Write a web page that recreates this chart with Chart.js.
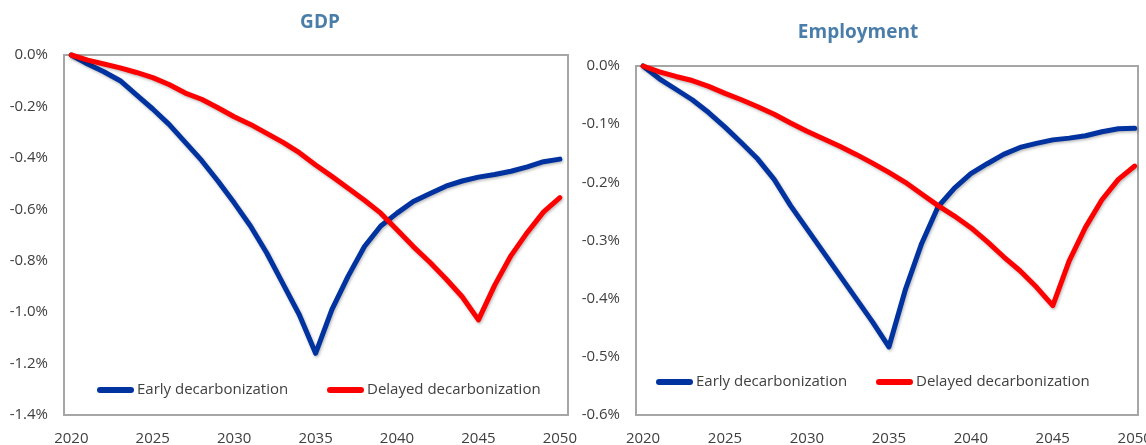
<!DOCTYPE html>
<html>
<head>
<meta charset="utf-8">
<title>GDP and employment impact of decarbonization timing</title>
<script src="https://cdn.jsdelivr.net/npm/chart.js@4.4.1/dist/chart.umd.min.js"></script>
<style>
  html, body { margin: 0; padding: 0; width: 1146px; height: 445px; overflow: hidden; background: #ffffff; }
  .panel { position: absolute; top: 0; }
  canvas { display: block; }
</style>
</head>
<body>
<div class="panel" style="left:0px"><canvas id="gdpChart" width="600" height="445"></canvas></div>
<div class="panel" style="left:573px"><canvas id="empChart" width="600" height="445"></canvas></div>

<script>
// ---- data -------------------------------------------------------------
const years = [2020, 2021, 2022, 2023, 2024, 2025, 2026, 2027, 2028, 2029,
               2030, 2031, 2032, 2033, 2034, 2035, 2036, 2037, 2038, 2039,
               2040, 2041, 2042, 2043, 2044, 2045, 2046, 2047, 2048, 2049, 2050];

const seriesNames = ['Early decarbonization', 'Delayed decarbonization'];

// GDP deviation from baseline, %
const gdpEarly = [0.000, -0.035, -0.065, -0.100, -0.155, -0.210, -0.270, -0.340, -0.410, -0.490,
                  -0.575, -0.665, -0.770, -0.890, -1.010, -1.160, -0.990, -0.860, -0.745, -0.665,
                  -0.615, -0.570, -0.540, -0.510, -0.490, -0.475, -0.465, -0.452, -0.435, -0.415, -0.405];
const gdpDelayed = [0.000, -0.020, -0.035, -0.050, -0.068, -0.088, -0.115, -0.148, -0.172, -0.205,
                    -0.240, -0.270, -0.305, -0.340, -0.380, -0.428, -0.472, -0.518, -0.565, -0.615,
                    -0.680, -0.745, -0.805, -0.870, -0.940, -1.030, -0.895, -0.780, -0.690, -0.610, -0.555];

// Employment deviation from baseline, %
const empEarly = [0.000, -0.022, -0.040, -0.058, -0.080, -0.105, -0.132, -0.160, -0.195, -0.240,
                  -0.280, -0.320, -0.360, -0.400, -0.440, -0.483, -0.385, -0.305, -0.242, -0.210,
                  -0.185, -0.168, -0.152, -0.140, -0.133, -0.127, -0.124, -0.120, -0.113, -0.108, -0.107];
const empDelayed = [0.000, -0.010, -0.018, -0.025, -0.035, -0.047, -0.058, -0.070, -0.083, -0.098,
                    -0.112, -0.125, -0.138, -0.152, -0.167, -0.183, -0.200, -0.220, -0.240, -0.258,
                    -0.278, -0.302, -0.328, -0.352, -0.380, -0.412, -0.335, -0.277, -0.230, -0.195, -0.172];

// axis ticks
const yearTicks = [2020, 2025, 2030, 2035, 2040, 2045, 2050];
const gdpTicks = [0.0, -0.2, -0.4, -0.6, -0.8, -1.0, -1.2, -1.4];
const empTicks = [0.0, -0.1, -0.2, -0.3, -0.4, -0.5, -0.6];

// ---- styling ----------------------------------------------------------
const EARLY_COLOR = '#0033a0';
const DELAYED_COLOR = '#ff0000';
const TEXT_COLOR = '#404040';
const TITLE_COLOR = '#4a7ea9';
const FRAME_COLOR = '#a6a6a6';
const FONT = '"Open Sans", "Noto Sans", "DejaVu Sans", sans-serif';
const CANVAS_W = 600, CANVAS_H = 445;

function toPoints(values) {
  return values.map((v, i) => ({ x: years[i], y: v }));
}

// Grey frame round the plotting area
const framePlugin = {
  id: 'frame',
  beforeDatasetsDraw(chart) {
    const a = chart.chartArea, ctx = chart.ctx;
    ctx.save();
    ctx.strokeStyle = FRAME_COLOR;
    ctx.lineWidth = 2;
    ctx.strokeRect(a.left, a.top, a.right - a.left, a.bottom - a.top);
    ctx.restore();
  }
};

// Soft drop shadow under the series lines
const shadowPlugin = {
  id: 'lineShadow',
  beforeDatasetsDraw(chart) {
    const ctx = chart.ctx;
    ctx.save();
    ctx.shadowColor = 'rgba(0,0,0,0.28)';
    ctx.shadowBlur = 3;
    ctx.shadowOffsetX = 1;
    ctx.shadowOffsetY = 1.5;
  },
  afterDatasetsDraw(chart) {
    chart.ctx.restore();
  }
};

// Panel heading
const headingPlugin = {
  id: 'heading',
  afterDraw(chart, args, opts) {
    const ctx = chart.ctx;
    ctx.save();
    ctx.fillStyle = TITLE_COLOR;
    ctx.font = 'bold ' + opts.size + 'px ' + FONT;
    ctx.textAlign = 'center';
    ctx.textBaseline = 'middle';
    ctx.fillText(opts.text, opts.x, opts.y);
    ctx.restore();
  }
};

// Legend drawn inside the plotting area, one row
const insideLegendPlugin = {
  id: 'insideLegend',
  afterDraw(chart, args, opts) {
    const ctx = chart.ctx, a = chart.chartArea;
    const y = a.bottom - opts.fromBottom;
    ctx.save();
    ctx.font = opts.size + 'px ' + FONT;
    ctx.textBaseline = 'middle';
    ctx.textAlign = 'left';
    const order = [0, 1];
    order.forEach((di, k) => {
      const ds = chart.data.datasets.find(d => d.key === di);
      const x0 = a.left + opts.starts[k];
      ctx.strokeStyle = ds.borderColor;
      ctx.lineWidth = 6;
      ctx.lineCap = 'round';
      ctx.beginPath();
      ctx.moveTo(x0 + 3, y);
      ctx.lineTo(x0 + opts.lineLen - 3, y);
      ctx.stroke();
      ctx.fillStyle = TEXT_COLOR;
      ctx.fillText(ds.label, x0 + opts.lineLen + 3, y);
    });
    ctx.restore();
  }
};

function makePanel(id, p) {
  const ctx = document.getElementById(id);
  return new Chart(ctx, {
    type: 'line',
    data: {
      datasets: [
        { key: 1, label: seriesNames[1], data: toPoints(p.delayed), borderColor: DELAYED_COLOR, order: 0 },
        { key: 0, label: seriesNames[0], data: toPoints(p.early), borderColor: EARLY_COLOR, order: 1 }
      ]
    },
    options: {
      responsive: false,
      animation: false,
      events: [],
      clip: false,
      parsing: true,
      elements: {
        line: { borderWidth: 5, tension: 0, borderJoinStyle: 'round', borderCapStyle: 'round', fill: false },
        point: { radius: 0, hoverRadius: 0 }
      },
      layout: {
        padding: { top: p.area.top, right: CANVAS_W - p.area.right, bottom: 0, left: 0 }
      },
      scales: {
        x: {
          type: 'linear',
          min: p.xMin,
          max: p.xMax,
          afterBuildTicks: axis => { axis.ticks = yearTicks.map(v => ({ value: v })); },
          afterFit: axis => { axis.height = CANVAS_H - p.area.bottom; },
          grid: { display: false, drawTicks: false },
          border: { display: false },
          ticks: {
            autoSkip: false,
            maxRotation: 0,
            padding: 15,
            color: TEXT_COLOR,
            font: { family: FONT, size: 15 },
            callback: v => String(v)
          }
        },
        y: {
          type: 'linear',
          min: p.yTicks[p.yTicks.length - 1],
          max: 0,
          afterBuildTicks: axis => { axis.ticks = p.yTicks.map(v => ({ value: v })); },
          afterFit: axis => { axis.width = p.area.left; },
          grid: { display: false, drawTicks: false },
          border: { display: false },
          ticks: {
            padding: p.yLabelGap,
            color: TEXT_COLOR,
            font: { family: FONT, size: 15 },
            callback: v => v.toFixed(1) + '%'
          }
        }
      },
      plugins: {
        legend: { display: false },
        tooltip: { enabled: false },
        title: { display: false },
        heading: p.heading,
        insideLegend: p.legend
      }
    },
    plugins: [framePlugin, shadowPlugin, headingPlugin, insideLegendPlugin]
  });
}

makePanel('gdpChart', {
  early: gdpEarly,
  delayed: gdpDelayed,
  yTicks: gdpTicks,
  area: { left: 64, right: 568, top: 55, bottom: 415 },
  xMin: 2019.55, xMax: 2050.5,
  yLabelGap: 16,
  heading: { text: 'GDP', x: 320, y: 23, size: 19 },
  legend: { fromBottom: 25, starts: [33, 263], lineLen: 37, size: 15 }
});

makePanel('empChart', {
  early: empEarly,
  delayed: empDelayed,
  yTicks: empTicks,
  area: { left: 63, right: 565, top: 66, bottom: 415 },
  xMin: 2019.57, xMax: 2050.2,
  yLabelGap: 16,
  heading: { text: 'Employment', x: 285, y: 33, size: 19 },
  legend: { fromBottom: 33, starts: [20, 240], lineLen: 37, size: 15 }
});
</script>
</body>
</html>
